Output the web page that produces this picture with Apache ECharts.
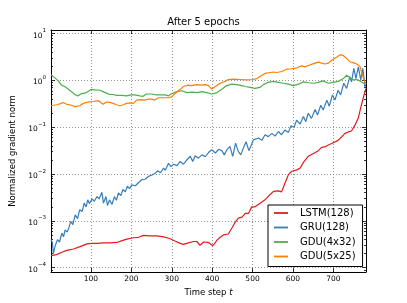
<!DOCTYPE html>
<html><head><meta charset="utf-8">
<script src="https://cdn.jsdelivr.net/npm/echarts@6/dist/echarts.min.js"></script>
<style>html,body{margin:0;padding:0;background:#fff}#c{width:407px;height:303px}</style>
</head><body><div id="c"></div>
<script>
// Values are log10(normalized gradient norm).
const seriesNames = ['LSTM(128)', 'GRU(128)', 'GDU(4x32)', 'GDU(5x25)'];
const seriesColors = ['#e41a1c', '#377eb8', '#4daf4a', '#ff7f00'];
const xTickValues = [100, 200, 300, 400, 500, 600, 700];
const yTickExponents = [-4, -3, -2, -1, 0, 1];

const lstmSteps = [1,15,28,40,57,73,90,103,115,131,148,164,177,189,205,218,230,246,263,280,296,308,321,329,341,354,362,370,379,391,402,412,420,428,440,449,457,465,474,482,490,498,506,518,531,543,552,564,572,580,589,597,610,618,626,638,651,663,671,679,688,700,712,721,729,737,745,754,762,768,774,781];
const lstmLog10 = [-3.74,-3.72,-3.67,-3.63,-3.60,-3.55,-3.49,-3.48,-3.48,-3.47,-3.47,-3.46,-3.42,-3.39,-3.36,-3.35,-3.31,-3.32,-3.32,-3.34,-3.38,-3.43,-3.48,-3.50,-3.47,-3.44,-3.44,-3.52,-3.45,-3.46,-3.53,-3.41,-3.35,-3.30,-3.28,-3.15,-3.03,-2.94,-2.92,-2.84,-2.84,-2.70,-2.70,-2.63,-2.55,-2.44,-2.37,-2.36,-2.38,-2.20,-2.01,-1.94,-1.91,-1.87,-1.75,-1.62,-1.56,-1.50,-1.43,-1.42,-1.38,-1.33,-1.28,-1.20,-1.13,-1.10,-1.08,-0.95,-0.80,-0.58,-0.38,-0.17];

const gruSteps = [1,4,7,11,17,22,28,32,36,41,45,50,55,61,67,72,78,83,88,92,96,103,108,115,120,127,131,137,141,146,152,158,163,168,174,179,185,190,196,201,210,218,226,234,242,251,259,265,272,280,284,292,298,305,313,321,329,337,346,352,358,366,375,383,391,399,408,416,424,430,436,444,451,458,465,471,478,484,491,497,502,515,523,531,539,548,556,564,572,580,589,595,603,609,618,626,632,638,646,655,661,669,675,684,690,698,704,712,718,726,733,741,745,751,756,762,768,773,779];
const gruLog10 = [-3.40,-3.45,-3.70,-3.54,-3.40,-3.45,-3.26,-3.34,-3.19,-3.24,-3.15,-3.01,-3.08,-2.87,-2.95,-2.76,-2.80,-2.62,-2.70,-2.55,-2.63,-2.53,-2.58,-2.48,-2.53,-2.39,-2.62,-2.48,-2.67,-2.55,-2.65,-2.48,-2.56,-2.40,-2.46,-2.33,-2.38,-2.26,-2.31,-2.23,-2.25,-2.18,-2.12,-2.11,-2.05,-2.02,-1.98,-1.93,-1.97,-1.87,-1.92,-1.77,-1.84,-1.79,-1.82,-1.73,-1.79,-1.70,-1.62,-1.73,-1.61,-1.66,-1.59,-1.63,-1.54,-1.48,-1.55,-1.47,-1.50,-1.59,-1.49,-1.41,-1.62,-1.34,-1.52,-1.59,-1.43,-1.31,-1.50,-1.38,-1.27,-1.23,-1.28,-1.16,-1.20,-1.13,-1.19,-1.09,-1.16,-1.06,-1.11,-0.97,-1.00,-0.85,-0.93,-0.77,-0.88,-0.70,-0.81,-0.62,-0.74,-0.53,-0.63,-0.42,-0.55,-0.31,-0.42,-0.21,-0.31,-0.06,-0.17,0.08,-0.03,0.26,0.04,0.29,0.01,0.26,-0.14];

const gdu4Steps = [1,10,19,27,35,44,52,60,67,77,89,101,110,122,130,138,146,155,163,176,188,200,209,221,229,237,250,262,272,284,292,300,313,325,337,350,362,375,387,399,412,424,436,449,461,474,482,494,506,518,527,539,552,564,576,589,601,614,626,638,651,663,675,688,700,712,725,733,741,749,758,766,775,781];
const gdu4Log10 = [0.12,0.06,-0.01,-0.10,-0.13,-0.19,-0.24,-0.30,-0.33,-0.28,-0.26,-0.19,-0.20,-0.21,-0.24,-0.27,-0.30,-0.30,-0.32,-0.32,-0.33,-0.31,-0.31,-0.33,-0.34,-0.29,-0.29,-0.31,-0.31,-0.31,-0.33,-0.28,-0.24,-0.22,-0.26,-0.25,-0.26,-0.24,-0.26,-0.29,-0.26,-0.19,-0.11,-0.08,-0.09,-0.11,-0.13,-0.15,-0.17,-0.15,-0.09,-0.04,-0.02,-0.04,-0.06,-0.08,-0.11,-0.08,-0.03,-0.05,-0.06,-0.04,-0.01,-0.06,-0.04,-0.02,0.04,0.11,0.06,0.01,0.02,-0.01,-0.06,-0.08];

const gdu5Steps = [1,15,23,31,40,52,60,64,72,81,93,106,118,124,130,138,146,155,163,172,180,188,196,205,213,225,233,242,250,258,267,280,292,300,308,321,329,341,350,362,375,383,391,399,408,420,432,440,453,470,486,499,511,519,531,543,552,560,572,585,597,610,622,630,638,651,663,671,679,688,696,709,717,725,733,741,749,758,766,770,775,781];
const gdu5Log10 = [-0.54,-0.52,-0.50,-0.47,-0.51,-0.53,-0.56,-0.60,-0.54,-0.49,-0.46,-0.45,-0.43,-0.47,-0.51,-0.46,-0.47,-0.49,-0.52,-0.54,-0.52,-0.49,-0.48,-0.49,-0.42,-0.41,-0.42,-0.40,-0.40,-0.42,-0.37,-0.37,-0.37,-0.35,-0.28,-0.19,-0.13,-0.10,-0.11,-0.09,-0.10,-0.09,-0.11,-0.185,-0.13,-0.06,-0.02,0.02,0.03,0.02,0.01,0.02,0.04,0.09,0.15,0.17,0.18,0.17,0.19,0.24,0.25,0.27,0.31,0.29,0.32,0.36,0.39,0.37,0.35,0.37,0.43,0.50,0.55,0.53,0.47,0.40,0.38,0.35,0.30,0.18,0.04,-0.08];

const stepsList = [lstmSteps, gruSteps, gdu4Steps, gdu5Steps];
const valuesList = [lstmLog10, gruLog10, gdu4Log10, gdu5Log10];

const FONT = 'DejaVu Sans';
const X_MIN = 1, X_MAX = 781, Y_MIN = -4.091, Y_MAX = 1.077;
const minorY = [];
for (let e = -5; e <= 1; e++) for (let k = 2; k <= 9; k++) {
  const v = e + Math.log10(k);
  if (v > Y_MIN && v < Y_MAX) minorY.push(v);
}
const dotted = {type: [1, 2], color: '#7a7a7a', width: 0.8};
const tickStyle = {color: '#000', width: 0.8};

function xAx(pos, main) {
  return {
    type: 'value', position: pos, min: X_MIN, max: X_MAX,
    axisLine: {show: true, onZero: false, lineStyle: {color: '#000', width: 1}},
    axisTick: {show: true, inside: true, length: 4, customValues: xTickValues, lineStyle: tickStyle},
    axisLabel: main ? {show: true, customValues: xTickValues, fontSize: 7.5, fontFamily: FONT, color: '#000', margin: 3} : {show: false},
    splitLine: main ? {show: true, lineStyle: dotted} : {show: false},
    name: main ? 'Time step {i|t}' : '', nameLocation: 'middle', nameGap: 13,
    nameTextStyle: {fontSize: 8.5, fontFamily: FONT, color: '#000', rich: {i: {fontSize: 8.5, fontStyle: 'italic', fontFamily: FONT, color: '#000'}}}
  };
}
function yAx(pos, main, minor) {
  const ticks = minor ? minorY : yTickExponents;
  return {
    type: 'value', position: pos, min: Y_MIN, max: Y_MAX,
    axisLine: {show: !minor, onZero: false, lineStyle: {color: '#000', width: 1}},
    axisTick: {show: true, inside: true, length: minor ? 2 : 4, customValues: ticks, lineStyle: tickStyle},
    axisLabel: main ? {
      show: true, customValues: yTickExponents, margin: 5,
      formatter: function (v) { const e = Math.round(v); return '{b|10}{s|' + (e < 0 ? '\u2212' : '') + Math.abs(e) + '}'; },
      rich: {
        b: {fontSize: 7.5, fontFamily: FONT, color: '#000', lineHeight: 12, verticalAlign: 'bottom'},
        s: {fontSize: 5.5, fontFamily: FONT, color: '#000', lineHeight: 12, verticalAlign: 'top'}
      }
    } : {show: false},
    splitLine: main ? {show: true, lineStyle: dotted} : {show: false},
    name: main ? 'Normalized gradient norm' : '', nameLocation: 'middle', nameGap: 25,
    nameTextStyle: {fontSize: 8.5, fontFamily: FONT, color: '#000'}
  };
}

const chart = echarts.init(document.getElementById('c'), null, {renderer: 'canvas'});
chart.setOption({
  animation: false,
  backgroundColor: '#fff',
  title: {text: 'After 5 epochs', left: 'center', top: 17, padding: 0,
    textStyle: {fontSize: 10, fontWeight: 'normal', fontFamily: FONT, color: '#000'}},
  grid: {left: 51, right: 41, top: 30, bottom: 31, containLabel: false},
  xAxis: [xAx('bottom', true), xAx('top', false)],
  yAxis: [yAx('left', true, false), yAx('left', false, true), yAx('right', false, false), yAx('right', false, true)],
  legend: {
    orient: 'vertical', left: 268, top: 205, icon: 'rect', itemWidth: 14, itemHeight: 1.8, itemGap: 4.5,
    padding: [3, 7, 5, 6], backgroundColor: '#fff', borderColor: '#000', borderWidth: 1, borderRadius: 0,
    data: seriesNames,
    textStyle: {fontSize: 10, fontFamily: FONT, color: '#000', lineHeight: 10, padding: [0, 0, 0, 7]}
  },
  series: seriesNames.map((name, i) => ({
    name: name, type: 'line', xAxisIndex: 0, yAxisIndex: 0, symbol: 'none', smooth: false,
    color: seriesColors[i],
    lineStyle: {color: seriesColors[i], width: 1.2},
    data: stepsList[i].map((t, j) => [t, valuesList[i][j]])
  }))
});
</script>
</body></html>
